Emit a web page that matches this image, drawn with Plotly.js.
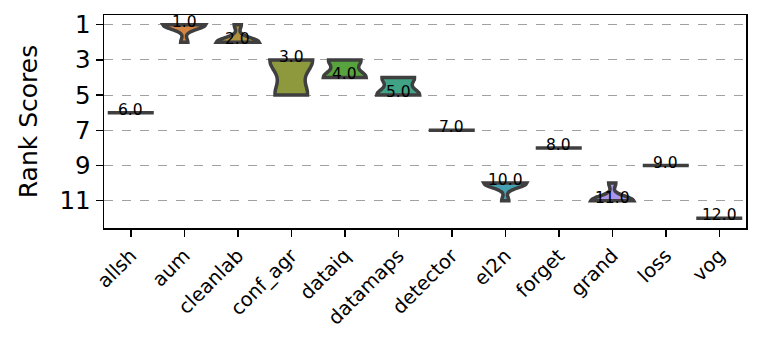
<!DOCTYPE html>
<html>
<head>
<meta charset="utf-8">
<script src="https://cdn.plot.ly/plotly-3.0.1.min.js"></script>
<style>
  html, body { margin: 0; padding: 0; background: #fff; }
  #chart { width: 761px; height: 341px; }
</style>
</head>
<body>
<div id="chart"></div>
<script>
/* ---- data: rank of each method across datasets ---- */
var methods = ['allsh', 'aum', 'cleanlab', 'conf_agr', 'dataiq', 'datamaps',
               'detector', 'el2n', 'forget', 'grand', 'loss', 'vog'];

var rankAllsh    = [6, 6, 6, 6, 6, 6, 6];
var rankAum      = [1, 1, 1, 1, 1, 1, 2];
var rankCleanlab = [1, 2, 2, 2, 2, 2, 2];
var rankConfAgr  = [3, 3, 3, 3, 5, 5, 5];
var rankDataiq   = [3, 3, 3, 4, 4, 4, 4];
var rankDatamaps = [4, 4, 4, 5, 5, 5, 5];
var rankDetector = [7, 7, 7, 7, 7, 7, 7];
var rankEl2n     = [10, 10, 10, 10, 10, 10, 11];
var rankForget   = [8, 8, 8, 8, 8, 8, 8];
var rankGrand    = [10, 11, 11, 11, 11, 11, 11];
var rankLoss     = [9, 9, 9, 9, 9, 9, 9];
var rankVog      = [12, 12, 12, 12, 12, 12, 12];

var rankScores = [rankAllsh, rankAum, rankCleanlab, rankConfAgr, rankDataiq, rankDatamaps,
                  rankDetector, rankEl2n, rankForget, rankGrand, rankLoss, rankVog];

var yTicks = [1, 3, 5, 7, 9, 11];

/* ---- styling: seaborn husl palette, desaturated like violinplot does ---- */
var huslHex = ['#f77189', '#e68332', '#bb9832', '#97a431', '#50b131', '#34af8b',
               '#36ada4', '#38aabf', '#3ba3ec', '#a48cf4', '#e866f4', '#f668c2'];
var EDGE = '#3f3f3f';
var FONT = 'DejaVu Sans, Liberation Sans, sans-serif';
var VWIDTH = 0.8;

function desaturate(hex, prop) {
  var r = parseInt(hex.substr(1, 2), 16) / 255;
  var g = parseInt(hex.substr(3, 2), 16) / 255;
  var b = parseInt(hex.substr(5, 2), 16) / 255;
  var mx = Math.max(r, g, b), mn = Math.min(r, g, b);
  var l = (mx + mn) / 2, d = mx - mn;
  if (d === 0) return hex;
  var s = l > 0.5 ? d / (2 - mx - mn) : d / (mx + mn);
  var h;
  if (mx === r) h = ((g - b) / d) % 6;
  else if (mx === g) h = (b - r) / d + 2;
  else h = (r - g) / d + 4;
  h = h / 6; if (h < 0) h += 1;
  s = s * prop;
  function hue2rgb(p, q, t) {
    if (t < 0) t += 1; if (t > 1) t -= 1;
    if (t < 1 / 6) return p + (q - p) * 6 * t;
    if (t < 1 / 2) return q;
    if (t < 2 / 3) return p + (q - p) * (2 / 3 - t) * 6;
    return p;
  }
  var q = l < 0.5 ? l * (1 + s) : l + s - l * s;
  var p = 2 * l - q;
  var out = [hue2rgb(p, q, h + 1 / 3), hue2rgb(p, q, h), hue2rgb(p, q, h - 1 / 3)];
  return 'rgb(' + out.map(function(v) { return Math.round(v * 255); }).join(',') + ')';
}

function median(vals) {
  var s = vals.slice().sort(function(a, b) { return a - b; });
  var m = Math.floor(s.length / 2);
  return s.length % 2 ? s[m] : (s[m - 1] + s[m]) / 2;
}

// scott bandwidth as scipy's gaussian_kde computes it
function scottBw(vals) {
  var n = vals.length;
  var mean = vals.reduce(function(a, b) { return a + b; }, 0) / n;
  var ss = vals.reduce(function(a, v) { return a + (v - mean) * (v - mean); }, 0);
  return Math.sqrt(ss / (n - 1)) * Math.pow(n, -0.2);
}

var traces = [];
var annotations = [];

rankScores.forEach(function(vals, i) {
  var color = desaturate(huslHex[i], 0.8);
  var lo = Math.min.apply(null, vals), hi = Math.max.apply(null, vals);
  if (lo === hi) {
    // no spread: seaborn collapses the violin to a horizontal stick
    traces.push({
      type: 'scatter', mode: 'lines',
      x: [i - VWIDTH / 2 - 0.03, i + VWIDTH / 2 + 0.03],
      y: [lo, lo],
      line: { color: EDGE, width: 3.5 },
      hoverinfo: 'skip', showlegend: false
    });
  } else {
    traces.push({
      type: 'violin', name: methods[i],
      x0: i, y: vals,
      width: VWIDTH, spanmode: 'hard', bandwidth: scottBw(vals),
      points: false, box: { visible: false }, meanline: { visible: false },
      fillcolor: color, opacity: 1,
      line: { color: EDGE, width: 3.5 },
      showlegend: false
    });
  }
  annotations.push({
    x: i, y: median(vals), xref: 'x', yref: 'y',
    text: median(vals).toFixed(1), showarrow: false,
    yanchor: 'middle', yshift: 3,
    font: { family: FONT, size: 15.5, color: '#000' }
  });
});

var layout = {
  width: 761, height: 341,
  margin: { l: 104, r: 15, t: 15, b: 113 },
  paper_bgcolor: '#fff', plot_bgcolor: '#fff',
  showlegend: false,
  violinmode: 'overlay',
  font: { family: FONT, color: '#000' },
  xaxis: {
    range: [-0.5, 11.5],
    tickmode: 'array',
    tickvals: methods.map(function(m, i) { return i; }),
    ticktext: methods,
    tickangle: -45,
    tickfont: { family: FONT, size: 19.5, color: '#000' },
    ticks: 'outside', ticklen: 7, tickwidth: 1.5, tickcolor: '#000',
    showline: true, linecolor: '#000', linewidth: 1.5, mirror: true,
    showgrid: false, zeroline: false
  },
  yaxis: {
    range: [12.55, 0.45],
    tickmode: 'array', tickvals: yTicks,
    tickfont: { family: FONT, size: 24.5, color: '#000' },
    ticks: 'outside', ticklen: 7, tickwidth: 1.5, tickcolor: '#000',
    showline: true, linecolor: '#000', linewidth: 1.5, mirror: true,
    showgrid: true, gridcolor: '#8a8a8a', gridwidth: 0.8, griddash: 'dash',
    zeroline: false,
    title: { text: 'Rank Scores', standoff: 14, font: { family: FONT, size: 25, color: '#000' } }
  },
  annotations: annotations
};

Plotly.newPlot('chart', traces, layout, { displayModeBar: false, staticPlot: true });
</script>
</body>
</html>
